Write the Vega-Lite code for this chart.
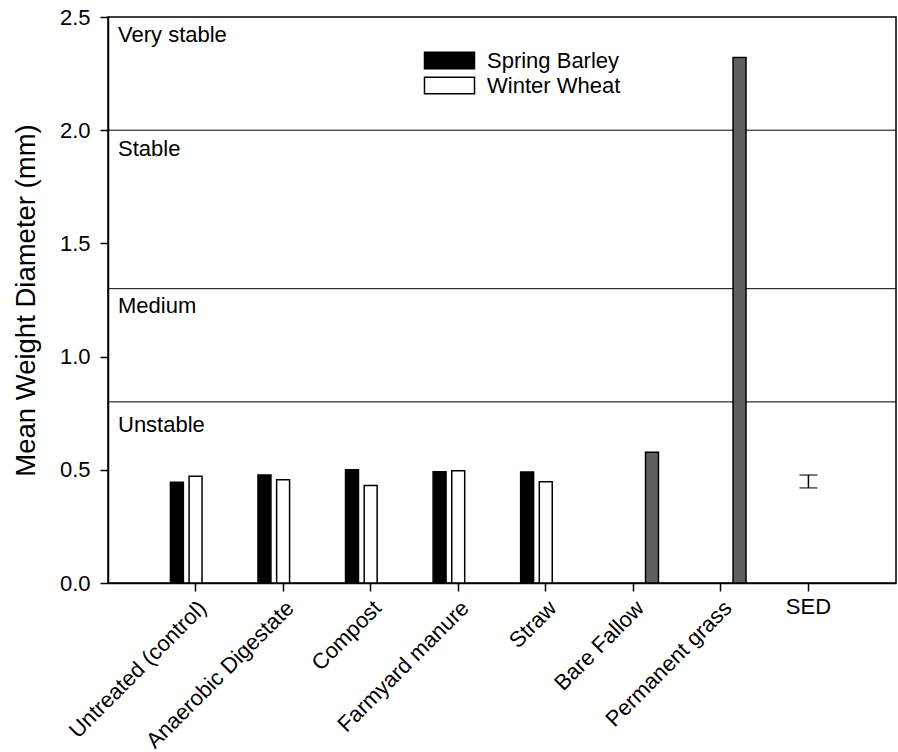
{
  "$schema": "https://vega.github.io/schema/vega-lite/v6.json",
  "width": 788,
  "height": 566,
  "autosize": {"type": "none"},
  "padding": {"left": 108, "top": 17, "right": 2, "bottom": 169},
  "background": "white",
  "config": {
    "font": "Liberation Sans",
    "view": {"stroke": "black", "strokeWidth": 1.5},
    "axis": {
      "labelFont": "Liberation Sans",
      "titleFont": "Liberation Sans",
      "labelColor": "black",
      "titleColor": "black",
      "domainColor": "black",
      "tickColor": "black",
      "grid": false
    }
  },
  "resolve": {"axis": {"x": "independent"}},
  "datasets": {
    "bars": [
      {"cat": "Untreated (control)", "series": "Spring Barley", "mwd": 0.445},
      {"cat": "Untreated (control)", "series": "Winter Wheat", "mwd": 0.472},
      {"cat": "Anaerobic Digestate", "series": "Spring Barley", "mwd": 0.477},
      {"cat": "Anaerobic Digestate", "series": "Winter Wheat", "mwd": 0.456},
      {"cat": "Compost", "series": "Spring Barley", "mwd": 0.5},
      {"cat": "Compost", "series": "Winter Wheat", "mwd": 0.431},
      {"cat": "Farmyard manure", "series": "Spring Barley", "mwd": 0.491},
      {"cat": "Farmyard manure", "series": "Winter Wheat", "mwd": 0.496},
      {"cat": "Straw", "series": "Spring Barley", "mwd": 0.49},
      {"cat": "Straw", "series": "Winter Wheat", "mwd": 0.447},
      {"cat": "Bare Fallow", "series": "Other", "mwd": 0.577},
      {"cat": "Permanent grass", "series": "Other", "mwd": 2.321}
    ],
    "sed": [{"cat": "SED", "lo": 0.42, "hi": 0.477}],
    "thresholds": [{"t": 0.8}, {"t": 1.3}, {"t": 2.0}],
    "zones": [
      {"label": "Very stable", "ty": 2.39},
      {"label": "Stable", "ty": 1.887},
      {"label": "Medium", "ty": 1.194},
      {"label": "Unstable", "ty": 0.669}
    ]
  },
  "layer": [
    {
      "data": {"name": "thresholds"},
      "mark": {"type": "rule", "color": "black", "strokeWidth": 1},
      "encoding": {
        "y": {
          "field": "t",
          "type": "quantitative",
          "title": "Mean Weight Diameter (mm)",
          "scale": {"domain": [0, 2.5], "nice": false, "zero": true},
          "axis": {
            "titleFontSize": 27.5,
            "titleFontWeight": "normal",
            "titlePadding": 19,
            "labelFontSize": 22,
            "labelPadding": 10,
            "format": ".1f",
            "values": [0, 0.5, 1, 1.5, 2, 2.5],
            "tickSize": 8,
            "tickWidth": 1.5,
            "domainWidth": 1.5
          }
        }
      }
    },
    {
      "data": {"name": "zones"},
      "mark": {"type": "text", "align": "left", "baseline": "alphabetic", "fontSize": 22, "dx": 10, "color": "black", "font": "Liberation Sans"},
      "encoding": {
        "x": {"value": 0},
        "y": {"field": "ty", "type": "quantitative", "title": "Mean Weight Diameter (mm)"},
        "text": {"field": "label"}
      }
    },
    {
      "data": {"name": "bars"},
      "mark": {"type": "bar", "stroke": "black", "strokeWidth": 1.5},
      "encoding": {
        "x": {
          "field": "cat",
          "type": "nominal",
          "sort": ["Untreated (control)", "Anaerobic Digestate", "Compost", "Farmyard manure", "Straw", "Bare Fallow", "Permanent grass", "SED"],
          "scale": {"domain": ["Untreated (control)", "Anaerobic Digestate", "Compost", "Farmyard manure", "Straw", "Bare Fallow", "Permanent grass", "SED"], "paddingInner": 0, "paddingOuter": 0.5},
          "axis": {
            "orient": "bottom",
            "title": null,
            "values": ["Untreated (control)", "Anaerobic Digestate", "Compost", "Farmyard manure", "Straw", "Bare Fallow", "Permanent grass"],
            "labelFontSize": 22,
            "labelAngle": -45,
            "labelAlign": "right",
            "labelBaseline": "top",
            "labelLimit": 0,
            "labelPadding": 6,
            "tickSize": 8,
            "tickWidth": 1.5,
            "domainWidth": 1.5
          }
        },
        "xOffset": {
          "field": "series",
          "type": "nominal",
          "scale": {"domain": ["Spring Barley", "Winter Wheat", "Other"], "paddingInner": 0.306, "paddingOuter": 1.183}
        },
        "y": {"field": "mwd", "type": "quantitative", "title": "Mean Weight Diameter (mm)"},
        "fill": {
          "field": "series",
          "type": "nominal",
          "scale": {"domain": ["Spring Barley", "Winter Wheat", "Other"], "range": ["#000000", "#ffffff", "#5f5f5f"]},
          "legend": {
            "values": ["Spring Barley", "Winter Wheat"],
            "title": null,
            "orient": "none",
            "legendX": 328,
            "legendY": 30,
            "symbolType": "M-2,-0.66L2,-0.66L2,0.66L-2,0.66Z",
            "symbolSize": 625,
            "symbolStrokeColor": "black",
            "symbolStrokeWidth": 1.5,
            "labelFontSize": 22,
            "labelFont": "Liberation Sans",
            "labelColor": "black",
            "labelOffset": 24,
            "rowPadding": 0
          }
        }
      }
    },
    {
      "data": {"name": "sed"},
      "mark": {"type": "rule", "color": "black", "strokeWidth": 1.5},
      "encoding": {
        "x": {
          "field": "cat",
          "type": "nominal",
          "axis": {
            "orient": "bottom",
            "title": null,
            "values": ["SED"],
            "domain": false,
            "labelFontSize": 22,
            "labelAngle": 0,
            "labelAlign": "center",
            "labelBaseline": "top",
            "labelPadding": 5,
            "tickSize": 8,
            "tickWidth": 1.5
          }
        },
        "y": {"field": "lo", "type": "quantitative", "title": "Mean Weight Diameter (mm)"},
        "y2": {"field": "hi"}
      }
    },
    {
      "data": {"name": "sed"},
      "mark": {"type": "tick", "color": "black", "thickness": 1.5, "size": 18, "orient": "horizontal"},
      "encoding": {
        "x": {"field": "cat", "type": "nominal", "axis": null},
        "y": {"field": "lo", "type": "quantitative", "title": "Mean Weight Diameter (mm)"}
      }
    },
    {
      "data": {"name": "sed"},
      "mark": {"type": "tick", "color": "black", "thickness": 1.5, "size": 18, "orient": "horizontal"},
      "encoding": {
        "x": {"field": "cat", "type": "nominal", "axis": null},
        "y": {"field": "hi", "type": "quantitative", "title": "Mean Weight Diameter (mm)"}
      }
    }
  ]
}
